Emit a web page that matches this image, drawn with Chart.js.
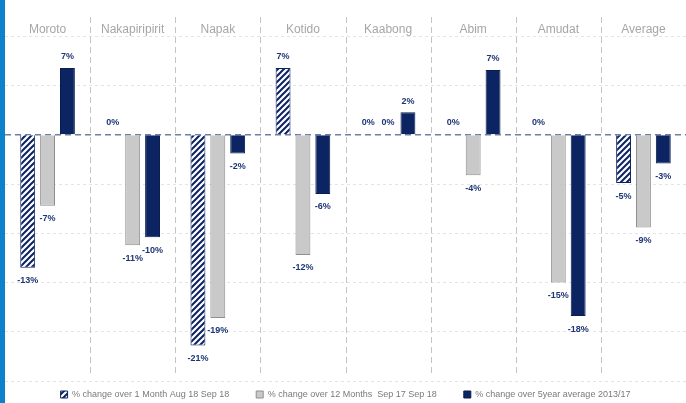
<!DOCTYPE html>
<html>
<head>
<meta charset="utf-8">
<script src="https://cdn.jsdelivr.net/npm/chart.js@4.4.1/dist/chart.umd.min.js"></script>
<style>
    html, body { margin: 0; padding: 0; background: #fff; }
    #wrap { width: 681px; height: 403px; border-left: 5px solid #0b82c9; }
</style>
</head>
<body>
<div id="wrap"><canvas id="myChart" width="681" height="403"></canvas></div>
<script>
// districts across the top
const districts = ['Moroto', 'Nakapiripirit', 'Napak', 'Kotido', 'Kaabong', 'Abim', 'Amudat', 'Average'];

// % change
const change1Month = [-13.5, 0, -21.4, 6.8, 0, 0, 0, -4.9];
const change12Months = [-7.2, -11.2, -18.6, -12.2, 0, -4.1, -15.0, -9.4];
const change5Year = [6.8, -10.4, -1.9, -6.0, 2.3, 6.6, -18.4, -2.9];

const seriesNames = [
    '% change over 1 Month Aug 18 Sep 18',
    '% change over 12 Months  Sep 17 Sep 18',
    '% change over 5year average 2013/17'
];

const navy = '#0c2462';

// white with navy diagonal stripes
function hatchPattern() {
    const c = document.createElement('canvas');
    c.width = 6;
    c.height = 6;
    const x = c.getContext('2d');
    x.fillStyle = '#fff';
    x.fillRect(0, 0, 6, 6);
    x.strokeStyle = navy;
    x.lineWidth = 2;
    x.beginPath();
    x.moveTo(-1, 7); x.lineTo(7, -1);
    x.moveTo(-1, 1); x.lineTo(1, -1);
    x.moveTo(5, 7); x.lineTo(7, 5);
    x.stroke();
    return x.createPattern(c, 'repeat');
}

// value labels, zero line and the dashed separators
const extras = {
    id: 'extras',
    beforeDatasetsDraw(chart) {
        const ctx = chart.ctx;
        const area = chart.chartArea;
        const xs = chart.scales.x;
        const y0 = chart.scales.y.getPixelForValue(0);
        ctx.save();
        ctx.strokeStyle = '#c4c4c4';
        ctx.lineWidth = 1;
        ctx.setLineDash([6, 4]);
        for (let i = 1; i < districts.length; i++) {
            const bx = Math.round((xs.getPixelForValue(i - 1) + xs.getPixelForValue(i)) / 2) + 0.5;
            ctx.beginPath();
            ctx.moveTo(bx, 17);
            ctx.lineTo(bx, area.bottom - 4);
            ctx.stroke();
        }
        ctx.strokeStyle = '#6f7fa3';
        ctx.lineWidth = 1.5;
        ctx.beginPath();
        ctx.moveTo(area.left, y0);
        ctx.lineTo(area.right, y0);
        ctx.stroke();
        ctx.restore();
    },
    afterDatasetsDraw(chart) {
        const ctx = chart.ctx;
        const y0 = chart.scales.y.getPixelForValue(0);
        ctx.save();
        ctx.font = 'bold 9px "Liberation Sans Narrow", "Liberation Sans", sans-serif';
        ctx.fillStyle = '#1f3676';
        ctx.textAlign = 'center';
        ctx.textBaseline = 'middle';
        chart.data.datasets.forEach((ds, di) => {
            chart.getDatasetMeta(di).data.forEach((bar, i) => {
                const v = ds.data[i];
                const txt = Math.round(v) + '%';
                let ty;
                if (v > 0) ty = bar.y - 11;
                else if (v < 0) ty = bar.y + 13;
                else ty = y0 - 12;
                ctx.fillText(txt, bar.x, ty);
            });
        });
        ctx.restore();
    }
};

const ctx = document.getElementById('myChart').getContext('2d');
const hatch = hatchPattern();

window.myChart = new Chart(ctx, {
    type: 'bar',
    data: {
        labels: districts,
        datasets: [
            {
                label: seriesNames[0],
                data: change1Month,
                backgroundColor: hatch,
                borderColor: navy,
                borderWidth: 1
            },
            {
                label: seriesNames[1],
                data: change12Months,
                backgroundColor: '#c9c9c9',
                borderColor: '#8e8e8e',
                borderWidth: 1
            },
            {
                label: seriesNames[2],
                data: change5Year,
                backgroundColor: navy,
                borderColor: '#0a1d50',
                borderWidth: 1
            }
        ]
    },
    options: {
        responsive: false,
        animation: false,
        layout: { padding: { top: 22, left: 0, right: 0, bottom: -6 } },
        datasets: {
            bar: { categoryPercentage: 0.7, barPercentage: 0.75 }
        },
        scales: {
            x: {
                position: 'top',
                grid: { display: false, drawTicks: false },
                border: { display: false },
                ticks: {
                    color: '#a6a6a6',
                    padding: 0,
                    font: { family: '"Liberation Sans Narrow", "Liberation Sans", sans-serif', size: 12 }
                }
            },
            y: {
                min: -25,
                max: 10,
                ticks: { display: false, stepSize: 5 },
                border: { display: false, dash: [3, 3] },
                grid: {
                    color: (c) => (c.tick && c.tick.value === 0 ? 'rgba(0,0,0,0)' : '#e4e4e4'),
                    drawTicks: false
                }
            }
        },
        plugins: {
            legend: {
                position: 'bottom',
                labels: {
                    boxWidth: 7,
                    boxHeight: 7,
                    padding: 9,
                    color: '#7a7a7a',
                    font: { family: '"Liberation Sans Narrow", "Liberation Sans", sans-serif', size: 9 },
                    generateLabels(chart) {
                        // a bit more room between the legend items
                        const items = Chart.defaults.plugins.legend.labels.generateLabels(chart);
                        items.forEach((it, i) => {
                            if (i < items.length - 1) it.text = it.text + '\u2002\u2002\u2002\u2002';
                        });
                        return items;
                    }
                }
            },
            tooltip: { enabled: false }
        }
    },
    plugins: [extras]
});
</script>
</body>
</html>
